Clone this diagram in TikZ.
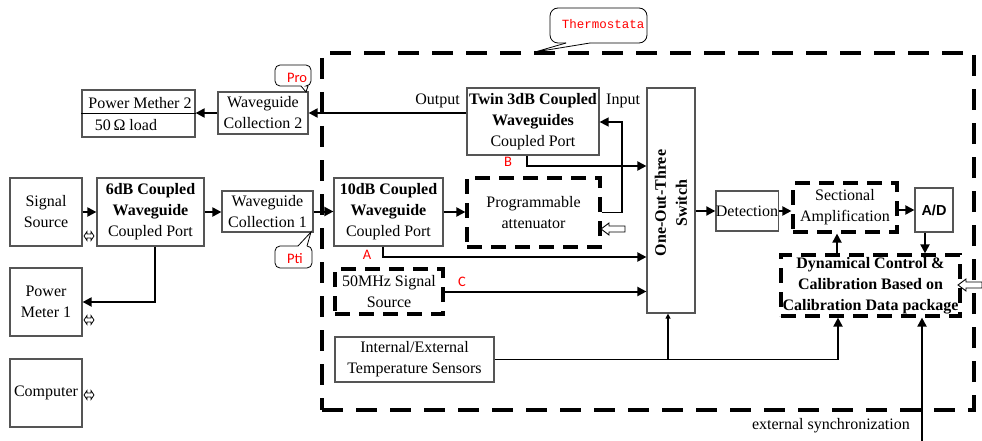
\documentclass[tikz,border=0pt]{standalone}
\usepackage{fontspec}
\setmainfont{Liberation Serif}
\newfontfamily\monof{Liberation Mono}
\newfontfamily\calib{Carlito}
\newfontfamily\arialf{Liberation Sans}
\usetikzlibrary{arrows.meta}
\definecolor{bdr}{RGB}{85,85,85}
\definecolor{lblred}{RGB}{255,0,0}
\tikzset{
 base/.style={font=\fontsize{16}{21}\selectfont, align=center, inner sep=0pt},
 bbase/.style={font=\bfseries\fontsize{16}{21}\selectfont, align=center, inner sep=0pt},
 blk/.style={base, draw=bdr, line width=1.2pt},
 dbox/.style={base, draw=black, line width=3.2pt, dash pattern=on 15pt off 9pt},
 outerdash/.style={draw=black, line width=3.5pt, dash pattern=on 21pt off 13pt},
 arr/.style={line width=2pt, -{Triangle[length=9pt,width=9pt]}},
 arrsm/.style={line width=2pt, -{Triangle[length=5pt,width=5pt]}},
 redlbl/.style={font=\calib\fontsize{14.5}{16}\selectfont, text=lblred, inner sep=0pt},
 callout/.style={line width=0.8pt, draw=black},
 hol/.pic={\draw[line width=0.9pt, fill=white] (0,0) -- (8,-6) -- (8,-3) -- (24,-3) -- (24,3) -- (8,3) -- (8,6) -- cycle;},
 dblarr/.pic={\draw[line width=0.7pt, fill=white] (-5,0) -- (-2,-4.5) -- (-2,-2) -- (2,-2) -- (2,-4.5) -- (5,0) -- (2,4.5) -- (2,2) -- (-2,2) -- (-2,4.5) -- cycle;},
}
\begin{document}
\begin{tikzpicture}[x=1pt,y=-1pt]
\useasboundingbox (0,0) rectangle (982,441);

% thermostat enclosure
\node[outerdash, minimum width=652, minimum height=357, inner sep=0pt] (thermo) at (648,231.5) {};
\draw[callout, rounded corners=8pt] (590,43) -- (647,43) -- (647,8) -- (550,8) -- (550,43) -- (566,43);
\draw[callout] (566,43) -- (535,52) -- (590,43);
\node[font=\monof\fontsize{12.5}{14}\selectfont, text=lblred, inner sep=0pt] (thermt) at (603,24) {Thermostata};

% left column
\node[blk, minimum width=72, minimum height=68] (ss) at (46,212) {Signal\\Source};
\node[blk, minimum width=107, minimum height=68] (six) at (150.5,212) {\textbf{6dB Coupled}\\\textbf{Waveguide}\\Coupled Port};
\node[blk, minimum width=91, minimum height=41] (wc1) at (267.5,211.5) {Waveguide\\Collection 1};
\node[blk, minimum width=72, minimum height=68] (pm1) at (46,302) {Power\\Meter 1};
\node[blk, minimum width=72, minimum height=68] (comp) at (46,393) {Computer};
\pic (d1) at (89,236) {dblarr};
\pic (d2) at (89,320) {dblarr};
\pic (d3) at (89,395) {dblarr};

\draw[arr] (ss.east) -- (six.west);
\draw[arr] (six.east) -- (six.east -| wc1.west);
\coordinate (pmc) at (155,302);
\draw[arr] (six.south -| pmc) -- (pmc) -- (pm1.east |- pmc);

% Pti callout
\draw[callout, rounded corners=5pt] (298,246) -- (275,246) -- (275,268) -- (312,268) -- (312,246) -- (307,246);
\draw[callout] (298,246) -- (311,232) -- (307,246);
\node[redlbl] (ptit) at (295,259) {Pti};

% power meter 2 / waveguide collection 2
\node[blk, minimum width=113, minimum height=47] (pm2) at (138.5,113.5) {};
\node[base] (pm2t) at (140,103) {Power Mether 2};
\node[base] (pm2l) at (126,125) {50\,Ω load};
\draw[line width=1.6pt] (pm2.west) -- (pm2.east);
\node[blk, minimum width=90, minimum height=42] (wc2) at (263,113) {Waveguide\\Collection 2};
\draw[arr] (wc2.west) -- (wc2.west -| pm2.east);
% Pro callout
\draw[callout, rounded corners=5pt] (301,86) -- (275,86) -- (275,65) -- (311,65) -- (311,86) -- (308,86);
\draw[callout] (301,86) -- (306,92) -- (308,86);
\node[redlbl] (prot) at (297,78) {Pro};

% inside the thermostat
\node[blk, minimum width=132, minimum height=67] (twin) at (533,121.5) {\textbf{Twin 3dB Coupled}\\\textbf{Waveguides}\\Coupled Port};
\draw[arr] (twin.west |- wc2.east) -- (wc2.east);
\node[base, anchor=east] (outl) at (460,101) {Output};
\node[base, anchor=west] (inl) at (606,101) {Input};

\node[blk, minimum width=48, minimum height=225] (sw) at (671,200.5) {};
\node[bbase, rotate=90] (swt) at (671,203) {One-Out-Three\\Switch};

\node[blk, minimum width=109, minimum height=68] (ten) at (388.5,212) {\textbf{10dB Coupled}\\\textbf{Waveguide}\\Coupled Port};
\draw[arr] (wc1.east) -- (wc1.east -| ten.west);

\node[dbox, minimum width=133, minimum height=69] (att) at (533.5,212.5) {Programmable\\attenuator};
\draw[arr] (ten.east) -- (ten.east -| att.west);
\coordinate (iA) at (622,212.5);
\coordinate (iB) at (622,122);
\draw[arr, line width=1.4pt] (att.east) -- (iA) -- (iB) -- (twin.east |- iB);
\pic (hA) at (601,229) {hol};

\coordinate (bB) at (527,166);
\draw[arr] (twin.south -| bB) -- (bB) -- (sw.west |- bB);
\node[redlbl] (blbl) at (508,162) {B};

\coordinate (aA) at (383,257);
\draw[arr] (ten.south -| aA) -- (aA) -- (sw.west |- aA);
\node[redlbl] (albl) at (367,255) {A};

\node[dbox, minimum width=108, minimum height=45] (fifty) at (389,291.5) {50MHz Signal\\Source};
\draw[arr] (fifty.east) -- (fifty.east -| sw.west);
\node[redlbl] (clbl) at (462,282) {C};

\node[blk, minimum width=159, minimum height=45] (temp) at (414.5,359.5) {Internal/External\\Temperature Sensors};

\node[blk, minimum width=62, minimum height=40] (det) at (747,211) {Detection};
\draw[arr] (sw.east |- det.west) -- (det.west);
\node[dbox, minimum width=104, minimum height=49] (sec) at (845,207.5) {Sectional\\Amplification};
\draw[arr] (det.east) -- (det.east -| sec.west);
\node[blk, minimum width=38, minimum height=44, font=\arialf\bfseries\fontsize{14.5}{16}\selectfont] (ad) at (934,210) {A/D};
\draw[arr] (sec.east |- ad.west) -- (ad.west);
\node[dbox, minimum width=179, minimum height=61] (dyn) at (870.5,285.5) {\textbf{Dynamical Control \&}\\\textbf{Calibration Based on}\\\textbf{Calibration Data package}};
\coordinate (adx) at (925,0);
\draw[arr] (ad.south -| adx) -- (dyn.north -| adx);
\coordinate (dsx) at (837,0);
\draw[arr] (dyn.north -| dsx) -- (sec.south -| dsx);
\pic (hD) at (958,285) {hol};

\coordinate (tj) at (668,359.5);
\coordinate (tr) at (838,359.5);
\draw[line width=1.4pt] (temp.east) -- (tr);
\draw[arrsm] (tj) -- (tj |- sw.south);
\draw[arr] (tr) -- (tr |- dyn.south);
\coordinate (es) at (922,441);
\draw[arr] (es) -- (es |- dyn.south);
\node[base, anchor=east] (esl) at (910,426) {external synchronization};
\end{tikzpicture}
\end{document}
